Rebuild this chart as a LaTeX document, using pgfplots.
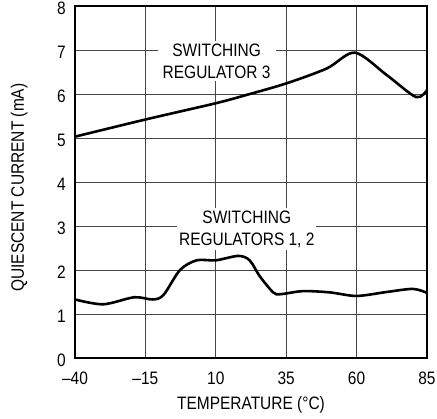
\documentclass[border=0pt]{standalone}
\usepackage{pgfplots}
\pgfplotsset{compat=1.18}
\usepackage{fontspec}
\setmainfont{Liberation Sans}[FakeStretch=0.86]
\begin{document}
\begin{tikzpicture}
\begin{axis}[
  scale only axis,
  width=352pt, height=352pt,
  xmin=-40, xmax=85, ymin=0, ymax=8,
  xtick={-40,-15,10,35,60,85},
  xticklabels={–40,–15,10,35,60,85},
  ytick={0,1,2,3,4,5,6,7,8},
  yticklabels={0,1,2,3,4,5,6,7,8},
  grid=major,
  major grid style={draw=black!72, line width=0.8pt},
  axis line style={black, line width=1.4pt},
  tick style={draw=none},
  ticklabel style={font=\fontsize{18}{21}\selectfont},
  xticklabel style={anchor=base, yshift=-26.3pt, inner sep=0pt},
  yticklabel style={anchor=east, xshift=-9pt, yshift=-2pt, inner sep=0pt},
  xlabel={TEMPERATURE (°C)},
  ylabel={QUIESCENT CURRENT (mA)},
  label style={font=\fontsize{18}{21}\selectfont, inner sep=0pt},
  xlabel style={at={(axis description cs:0.5,0)}, anchor=base, yshift=-52pt},
  ylabel style={at={(axis description cs:0,0.484)}, anchor=base, yshift=51pt},
  clip=false,
]
\addplot[black, line width=2.6pt, smooth, tension=0.5] coordinates {
(-40,5.03) (-15,5.42) (10,5.79) (21,5.98) (35,6.24) (49.4,6.58) (59.4,6.94)
(70.7,6.43) (81.1,5.93) (85,6.09)
};
\addplot[black, line width=2.6pt, smooth, tension=0.5] coordinates {
(-40,1.33) (-30,1.22) (-19,1.38) (-12.5,1.33) (-8.6,1.43) (-2.7,2.0) (3.2,2.22)
(10,2.22) (18,2.32) (22,2.22) (25.7,1.85) (30.4,1.49) (33,1.45) (41,1.52)
(50.6,1.49) (60,1.41) (70.7,1.50) (80,1.57) (85,1.48)
};
\node[fill=white, align=center, inner xsep=5pt, inner ysep=3pt,
  font=\fontsize{18}{21.7}\selectfont] at (axis cs:10.3,6.75) {SWITCHING\\REGULATOR 3};
\node[fill=white, align=center, inner xsep=2pt, inner ysep=3pt,
  font=\fontsize{18}{21.7}\selectfont] at (axis cs:21,2.93) {SWITCHING\\REGULATORS 1, 2};
\path (rel axis cs:0,0) ++(-75pt,-61pt) coordinate (bbA);
\path (rel axis cs:1,1) ++(10pt,6pt) coordinate (bbB);
\end{axis}
\end{tikzpicture}
\end{document}
